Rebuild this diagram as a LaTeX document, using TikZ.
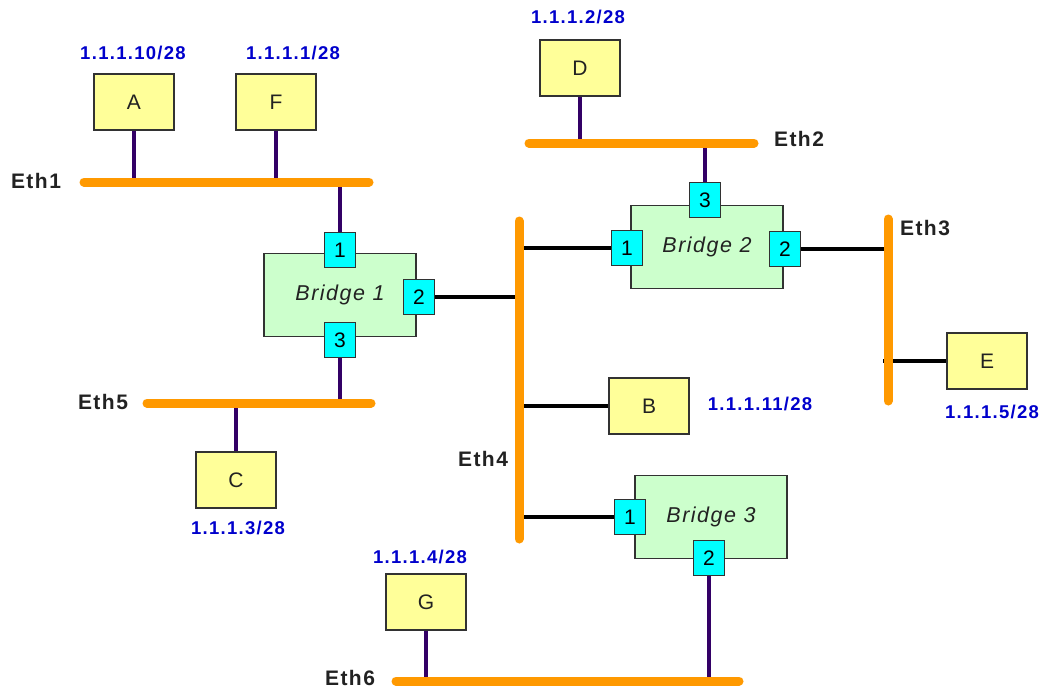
\documentclass[tikz,border=0pt]{standalone}
\usepackage{fontspec}
\setmainfont{Liberation Sans}
\newfontfamily\lbl[LetterSpace=7]{Liberation Sans}
\definecolor{busor}{RGB}{255,153,0}
\definecolor{stemc}{RGB}{51,0,102}
\definecolor{hosty}{RGB}{255,255,153}
\definecolor{bridgeg}{RGB}{204,255,204}
\definecolor{portc}{RGB}{0,255,255}
\definecolor{ipblue}{RGB}{0,0,204}
\definecolor{boxgray}{RGB}{50,50,50}
\definecolor{txtc}{RGB}{34,34,34}
\begin{document}
\begin{tikzpicture}[x=1pt,y=-1pt,
  host/.style={draw=boxgray, fill=hosty, line width=1.6pt, minimum width=80pt, minimum height=56pt, inner sep=0pt, text=txtc, font=\fontsize{21}{24}\selectfont\lbl},
  bridgebox/.style={draw=boxgray, fill=bridgeg, line width=1.6pt, minimum width=152pt, minimum height=83pt, inner sep=0pt, text=txtc, font=\fontsize{21.5}{24}\selectfont\lbl\itshape},
  port/.style={draw=boxgray, fill=portc, line width=1.6pt, minimum width=31pt, minimum height=35pt, inner sep=0pt, text=black, font=\fontsize{21}{24}\selectfont\lbl},
  bus/.style={line width=9pt, busor, line cap=round},
  stem/.style={line width=4pt, stemc},
  link/.style={line width=4pt, black},
  ethlbl/.style={text=txtc, font=\fontsize{21}{24}\selectfont\lbl\bfseries, inner sep=0pt},
  iplbl/.style={text=ipblue, font=\fontsize{18.5}{22}\selectfont\lbl\bfseries, inner sep=0pt}
]
\useasboundingbox (0,0) rectangle (1041,691);
% bus end points
\coordinate (e1w) at (84,182);  \coordinate (e1e) at (369,182);
\coordinate (e2w) at (529,143); \coordinate (e2e) at (754,143);
\coordinate (e3n) at (888,219); \coordinate (e3s) at (888,401);
\coordinate (e4n) at (519,221); \coordinate (e4s) at (519,539);
\coordinate (e5w) at (147,403); \coordinate (e5e) at (371,403);
\coordinate (e6w) at (396,681); \coordinate (e6e) at (739,681);
% hosts
\node[host] (A) at (134,102) {A};
\node[host] (F) at (276,102) {F};
\node[host] (D) at (580,68) {D};
\node[host] (B) at (649,406) {B};
\node[host] (E) at (987,361) {E};
\node[host] (C) at (236,480) {C};
\node[host] (G) at (426,602) {G};
% bridges
\node[bridgebox] (br1) at (340,295) {Bridge 1};
\node[port] (b1p1) at (340,250) {1};
\node[port] (b1p2) at (419,297) {2};
\node[port] (b1p3) at (340,340) {3};
\node[bridgebox] (br2) at (707,247) {Bridge 2};
\node[port] (b2p3) at (705,200) {3};
\node[port] (b2p1) at (627,248) {1};
\node[port] (b2p2) at (785,249) {2};
\node[bridgebox] (br3) at (711,517) {Bridge 3};
\node[port] (b3p1) at (630,517) {1};
\node[port] (b3p2) at (709,558) {2};
% stems
\draw[stem] (A.south) -- (A.south |- e1w);
\draw[stem] (F.south) -- (F.south |- e1w);
\draw[stem] (b1p1.north) -- (b1p1.north |- e1w);
\draw[stem] (b1p3.south) -- (b1p3.south |- e5w);
\draw[stem] (C.north) -- (C.north |- e5w);
\draw[stem] (D.south) -- (D.south |- e2w);
\draw[stem] (b2p3.north) -- (b2p3.north |- e2w);
\draw[stem] (b3p2.south) -- (b3p2.south |- e6w);
\draw[stem] (G.south) -- (G.south |- e6w);
% links
\draw[link] (b1p2.east) -- (b1p2.east -| e4n);
\draw[link] (b2p1.west) -- (b2p1.west -| e4n);
\draw[link] (B.west) -- (B.west -| e4n);
\draw[link] (b3p1.west) -- (b3p1.west -| e4n);
\draw[link] (b2p2.east) -- (b2p2.east -| e3n);
\draw[link] (E.west) -- ([xshift=-5pt]E.west -| e3n);
% buses
\draw[bus] (e1w) -- (e1e);
\draw[bus] (e2w) -- (e2e);
\draw[bus] (e3n) -- (e3s);
\draw[bus] (e4n) -- (e4s);
\draw[bus] (e5w) -- (e5e);
\draw[bus] (e6w) -- (e6e);
% bus labels
\node[ethlbl] (l1) at (36,181) {Eth1};
\node[ethlbl] (l2) at (799,139) {Eth2};
\node[ethlbl] (l3) at (925,228) {Eth3};
\node[ethlbl] (l4) at (483,459) {Eth4};
\node[ethlbl] (l5) at (103,402) {Eth5};
\node[ethlbl] (l6) at (350,678) {Eth6};
% addresses
\node[iplbl] (ipA) at (133,53) {1.1.1.10/28};
\node[iplbl] (ipF) at (293,53) {1.1.1.1/28};
\node[iplbl] (ipD) at (578,17) {1.1.1.2/28};
\node[iplbl] (ipB) at (760,404) {1.1.1.11/28};
\node[iplbl] (ipE) at (992,412) {1.1.1.5/28};
\node[iplbl] (ipC) at (238,528) {1.1.1.3/28};
\node[iplbl] (ipG) at (420,557) {1.1.1.4/28};
\end{tikzpicture}
\end{document}
